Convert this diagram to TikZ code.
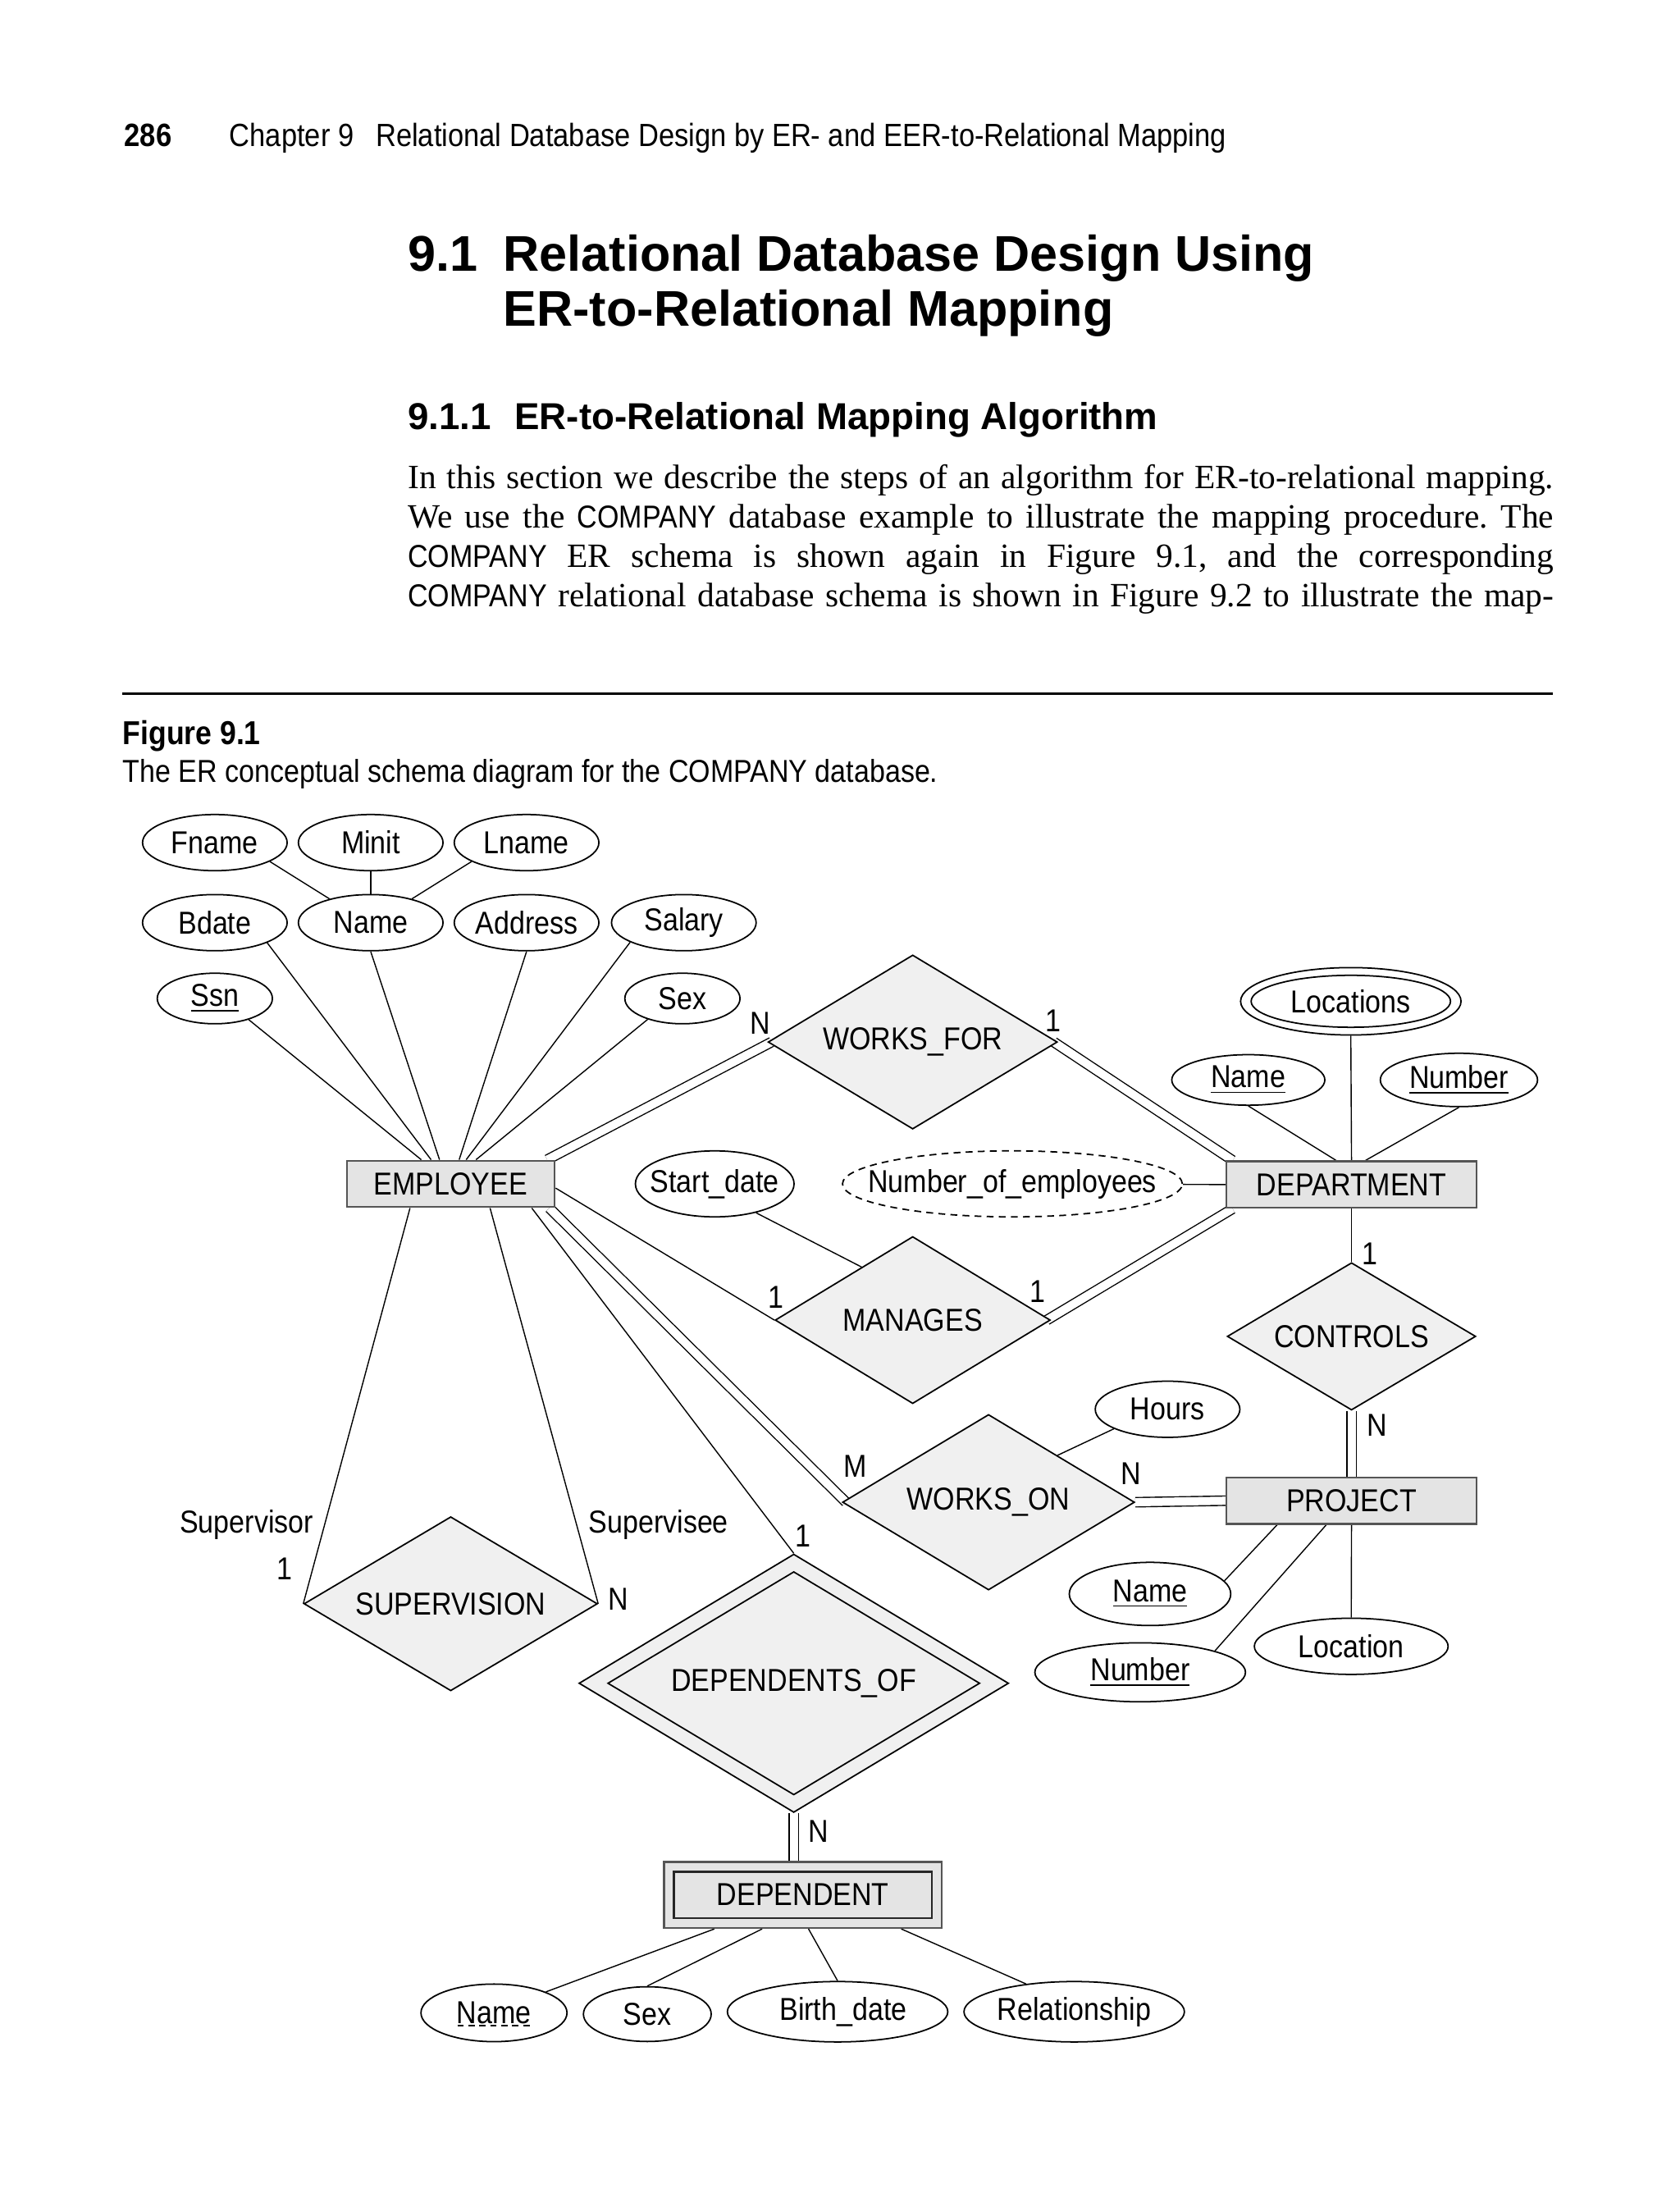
\documentclass[tikz,border=0pt]{standalone}
\usepackage{fontspec}
\setmainfont{Liberation Serif}
\newfontfamily\hv{Liberation Sans}
\newfontfamily\hvn[FakeStretch=0.88]{Liberation Sans}
\usetikzlibrary{shapes.geometric,positioning,calc}
\definecolor{RelFill}{RGB}{240,240,240}
\definecolor{EntFill}{RGB}{228,228,228}
\definecolor{EntLine}{RGB}{85,85,85}
\newlength\gu
\setlength\gu{0.17124mm}
\pgfdeclarelayer{background}
\pgfsetlayers{background,main}
\frenchspacing

\begin{document}
\begin{tikzpicture}[x=0.17124mm, y=-0.17124mm,
    font=\hvn\fontsize{11}{13}\selectfont,
    line width=0.5pt,
    sz/.style 2 args={minimum width=#1*\gu, minimum height=#2*\gu},
    attr/.style={draw, fill=white, ellipse, inner sep=0pt},
    ent/.style={draw=EntLine, fill=EntFill, rectangle, inner sep=0pt, line width=0.7pt},
    rel/.style={draw, fill=RelFill, diamond, aspect=1.665, inner sep=0pt},
    dbl/.style={double, double distance=1mm},
    card/.style={inner sep=0pt},
    txt/.style={anchor=base west, inner sep=0pt}
  ]
  \useasboundingbox (0,0) rectangle (1196,1568);

  % page text
  \node[txt, font=\hvn\bfseries\fontsize{11.2}{13}\selectfont] (pgno) at (88,104) {286};
  \node[txt, font=\hvn\fontsize{11.15}{13}\selectfont] (chap) at (163,104) {Chapter 9\hspace{2.7mm}Relational Database Design by ER- and EER-to-Relational Mapping};
  \node[txt, font=\hv\bfseries\fontsize{17.4}{20}\selectfont] (secno) at (290,193) {9.1};
  \node[txt, font=\hv\bfseries\fontsize{17.4}{20}\selectfont] (title1) at (358,193) {Relational Database Design Using};
  \node[txt, font=\hv\bfseries\fontsize{17.4}{20}\selectfont] (title2) at (358,232) {ER-to-Relational Mapping};
  \node[txt, font=\hv\bfseries\fontsize{13}{15}\selectfont] (subno) at (290,306) {9.1.1};
  \node[txt, font=\hv\bfseries\fontsize{13}{15}\selectfont] (subtitle) at (366,306) {ER-to-Relational Mapping Algorithm};
  \node[txt, font=\fontsize{11.8}{14}\selectfont] (par1) at (290,348) {\makebox[139.73mm][s]{In this section we describe the steps of an algorithm for ER-to-relational mapping.}};
  \node[txt, font=\fontsize{11.8}{14}\selectfont] (par2) at (290,376) {\makebox[139.73mm][s]{We use the {\hvn\fontsize{11}{13}\selectfont COMPANY} database example to illustrate the mapping procedure. The}};
  \node[txt, font=\fontsize{11.8}{14}\selectfont] (par3) at (290,404) {\makebox[139.73mm][s]{{\hvn\fontsize{11}{13}\selectfont COMPANY} ER schema is shown again in Figure 9.1, and the corresponding}};
  \node[txt, font=\fontsize{11.8}{14}\selectfont] (par4) at (290,432) {\makebox[139.73mm][s]{{\hvn\fontsize{11}{13}\selectfont COMPANY} relational database schema is shown in Figure 9.2 to illustrate the map-}};
  \draw[line width=0.9pt] (87,494) -- (1106,494);
  \node[txt, font=\hvn\bfseries\fontsize{11.5}{13}\selectfont] (figlab) at (87,530) {Figure 9.1};
  \node[txt, font=\hvn\fontsize{11}{13}\selectfont] (figcap) at (87,557) {The ER conceptual schema diagram for the COMPANY database.};

  % EMPLOYEE and its attributes
  \node[ent, sz={148}{33}] (emp) at (321,843) {EMPLOYEE};
  \node[attr, sz={103}{40}] (fname) at (153,600) {Fname};
  \node[attr, sz={103}{40}] (minit) at (264,600) {Minit};
  \node[attr, sz={103}{40}] (lname) at (375,600) {Lname};
  \node[attr, sz={103}{40}] (bdate) at (153,657) {Bdate};
  \node[attr, sz={103}{40}] (ename) at (264,657) {Name};
  \node[attr, sz={103}{40}] (addr) at (375,657) {\makebox[0pt]{Address}};
  \node[attr, sz={103}{40}] (salary) at (487,657) {Salary};
  \node[attr, sz={82}{36}] (ssn) at (153,711) {\underline{Ssn}};
  \node[attr, sz={82}{36}] (sex) at (486,711) {Sex};

  % DEPARTMENT and its attributes
  \node[ent, sz={178}{33}] (dept) at (962.5,843.5) {DEPARTMENT};
  \node[attr, sz={157}{48}] (locs) at (962,713) {};
  \node[attr, sz={142}{37}] (locsin) at (locs) {\makebox[0pt]{Locations}};
  \node[attr, sz={109}{36}] (dname) at (889,769) {\underline{Name}};
  \node[attr, sz={112}{38}] (dnum) at (1039,769) {\makebox[0pt]{\underline{Number}}};
  \node[attr, dashed, dash pattern=on 2.4pt off 1.8pt, sz={242}{47}] (numemp) at (721,843) {\makebox[0pt]{Number\_of\_employees}};
  \node[attr, sz={113}{47}] (start) at (509,843) {\makebox[0pt]{Start\_date}};

  % relationships
  \node[rel, sz={206}{124}] (wf) at (650,742) {WORKS\_FOR};
  \node[rel, sz={196}{119}] (mgr) at (650,940) {MANAGES};
  \node[rel, sz={177}{105}] (ctrl) at (962.5,951.6) {CONTROLS};
  \node[rel, sz={208}{125}] (won) at (704,1069.7) {WORKS\_ON};
  \node[rel, sz={209}{124}] (sup) at (321,1142) {SUPERVISION};
  \node[rel, sz={306}{184}] (depof) at (565.3,1198.6) {};
  \node[rel, sz={265}{159}] (depofin) at (depof) {DEPENDENTS\_OF};

  % PROJECT and its attributes
  \node[ent, sz={178}{33}] (proj) at (962.5,1068.6) {PROJECT};
  \node[attr, sz={103}{40}] (hours) at (831.5,1003.5) {Hours};
  \node[attr, sz={115}{45}] (pname) at (819,1135) {\underline{Name}};
  \node[attr, sz={150}{42}] (pnum) at (812,1190.8) {\makebox[0pt]{\underline{Number}}};
  \node[attr, sz={138}{40}] (ploc) at (962.3,1172.3) {\makebox[0pt]{Location}};

  % DEPENDENT and its attributes
  \node[ent, sz={198}{47}] (dep) at (571.8,1349.3) {};
  \node[ent, draw=black!85, sz={184}{33}] (depin) at (dep) {DEPENDENT};
  \node[attr, sz={104}{41}] (depname) at (351.8,1433.3) {Name};
  \draw[dashed, dash pattern=on 2.2pt off 1.6pt] ($(depname.center)+(-26,9)$) -- ($(depname.center)+(26,9)$);
  \node[attr, sz={91}{39}] (depsex) at (461,1434.2) {Sex};
  \node[attr, sz={157}{43}] (birth) at (596.5,1432.5) {\makebox[0pt]{\hspace{8\gu}Birth\_date}};
  \node[attr, sz={157}{43}] (relship) at (765,1432.5) {\makebox[0pt]{Relationship}};

  % cardinalities and roles
  \node[card] (nwf) at (541.7,728.4) {N};
  \node[card] (onewf) at (750,727) {1};
  \node[card] (onemg) at (552.9,923.8) {1};
  \node[card] (onemd) at (738.9,919.5) {1};
  \node[card] (onect) at (975.5,893) {1};
  \node[card] (nct) at (980.5,1015) {N};
  \node[card] (mwo) at (609,1044) {M};
  \node[card] (nwo) at (805.2,1049.2) {N};
  \node[card] (suprole) at (175.6,1085.8) {Supervisor};
  \node[card] (onesup) at (202.5,1117.3) {1};
  \node[card] (subrole) at (469,1085.8) {Supervisee};
  \node[card] (nsup) at (440.4,1138.8) {N};
  \node[card] (onedep) at (571.9,1094) {1};
  \node[card] (ndep) at (582.7,1304) {N};

  \begin{pgfonlayer}{background}
    % composite name
    \draw (fname.-19) -- (ename.150);
    \draw (minit.south) -- (ename.north);
    \draw (lname.199) -- (ename.30);
    % employee attributes
    \draw (ssn.-32) -- ($(emp.north)+(-21,0)$);
    \draw (bdate.-21) -- ($(emp.north)+(-14,0)$);
    \draw (ename.south) -- ($(emp.north)+(-8,0)$);
    \draw (addr.south) -- ($(emp.north)+(6,0)$);
    \draw (salary.200) -- ($(emp.north)+(11,0)$);
    \draw (sex.211) -- ($(emp.north)+(18,0)$);
    % department attributes
    \draw (locs.south) -- (dept.north);
    \draw (dname.south) -- ($(dept.north)+(-11,0)$);
    \draw (dnum.south) -- ($(dept.north)+(10,0)$);
    \draw (numemp) -- (dept.west);
    % relationships
    \draw[dbl] ($(emp.north east)+(-6,0)$) -- ($(wf.west)+(3,0)$);
    \draw[dbl] ($(wf.east)+(-3,0)$) -- ($(dept.north west)+(5,0)$);
    \draw ($(emp.east)+(0,3)$) -- (mgr.west);
    \draw (start.-35) -- ($(mgr.west)!0.63!(mgr.north)$);
    \draw[dbl] ($(mgr.east)+(-3,0)$) -- ($(dept.south west)+(5,0)$);
    \draw (dept.south) -- (ctrl.north);
    \draw[dbl] (ctrl.south) -- (proj.north);
    \draw[dbl] ($(emp.south east)+(-4.5,0)$) -- ($(won.west)+(3,0)$);
    \draw[dbl] (won.east) -- (proj.west);
    \draw (hours.200) -- ($(won.north)!0.47!(won.east)$);
    \draw ($(emp.south)+(-29,0)$) -- (sup.west);
    \draw ($(emp.south)+(28,0)$) -- (sup.east);
    \draw ($(emp.south east)+(-17,0)$) -- (depof.north);
    \draw[dbl] (depof.south) -- (depof.south |- dep.north);
    % project attributes
    \draw ($(proj.south)+(-53,0)$) -- (pname.10);
    \draw ($(proj.south)+(-18,0)$) -- (pnum.16);
    \draw (proj.south) -- (ploc.north);
    % dependent attributes
    \draw (depname.22) -- ($(dep.south)+(-63,0)$);
    \draw (depsex.north) -- ($(dep.south)+(-29,0)$);
    \draw (birth.north) -- ($(dep.south)+(4,0)$);
    \draw (relship.150) -- ($(dep.south)+(70,0)$);
  \end{pgfonlayer}
\end{tikzpicture}
\end{document}
